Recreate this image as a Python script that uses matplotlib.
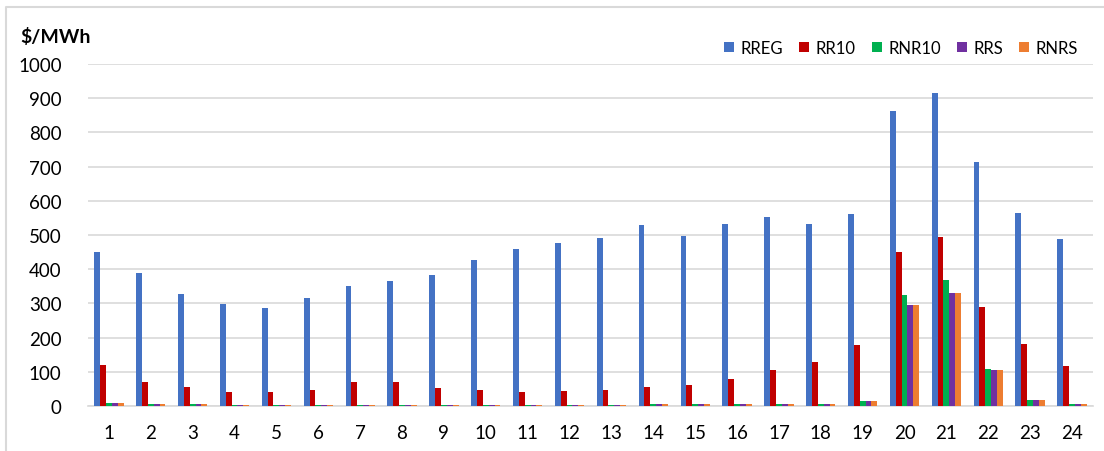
import matplotlib.pyplot as plt
import numpy as np

plt.rcParams['font.family'] = ['Lato', 'DejaVu Sans']

hours = list(range(1, 25))
rreg = [450, 390, 328, 298, 288, 315, 350, 365, 383, 427, 460, 477,
        492, 528, 498, 533, 553, 532, 562, 862, 915, 715, 565, 487]
rr10 = [120, 70, 55, 40, 40, 48, 70, 70, 52, 47, 42, 43,
        47, 55, 62, 80, 105, 128, 178, 450, 495, 290, 182, 118]
rnr10 = [8, 5, 5, 4, 4, 4, 4, 4, 4, 4, 4, 4,
         4, 5, 5, 5, 7, 7, 14, 325, 368, 108, 18, 5]
rrs = [8, 5, 5, 4, 4, 4, 4, 4, 4, 4, 4, 4,
       4, 5, 5, 5, 7, 7, 14, 295, 330, 105, 18, 5]
rnrs = [8, 5, 5, 4, 4, 4, 4, 4, 4, 4, 4, 4,
        4, 5, 5, 5, 7, 7, 14, 295, 330, 105, 18, 5]

series = [("RREG", rreg, "#4472C4"),
          ("RR10", rr10, "#C00000"),
          ("RNR10", rnr10, "#00B050"),
          ("RRS", rrs, "#7030A0"),
          ("RNRS", rnrs, "#ED7D31")]

fig = plt.figure(figsize=(11.04, 4.52), dpi=100)
# light frame: only left and top edges are visible in the source
fig.lines.append(plt.Line2D([0.0055, 0.0055, 1.0], [0.0, 0.982, 0.982], transform=fig.transFigure,
                            color="#d9d9d9", linewidth=1.5))
ax = fig.add_axes([0.0797, 0.0996, 0.9103, 0.7564])

x = np.array(hours)
w = 0.14
for i, (name, vals, col) in enumerate(series):
    ax.bar(x + (i - 2) * w, vals, width=w, color=col, label=name, zorder=3)

ax.set_xlim(0.5, 24.5)
ax.set_ylim(0, 1000)
ax.set_yticks(range(0, 1001, 100))
ax.set_xticks(hours)
ax.grid(axis="y", color="#d9d9d9", linewidth=1.2, zorder=0)
for s in ["top", "right", "left"]:
    ax.spines[s].set_visible(False)
ax.spines["bottom"].set_color("#d9d9d9")
ax.spines["bottom"].set_linewidth(1.2)
ax.tick_params(length=0, labelsize=13.5, colors="#000000")
ax.tick_params(axis="x", pad=13)
ax.tick_params(axis="y", pad=19)

fig.text(0.018, 0.918, "$/MWh", fontsize=14, fontweight="bold", ha="left", va="center")

ax.legend(loc="upper right", bbox_to_anchor=(1.0, 1.115), ncol=5, frameon=False,
          fontsize=12, handlelength=0.6, handleheight=0.6, handletextpad=0.4,
          columnspacing=0.95)

fig.savefig("out.png", dpi=100)
